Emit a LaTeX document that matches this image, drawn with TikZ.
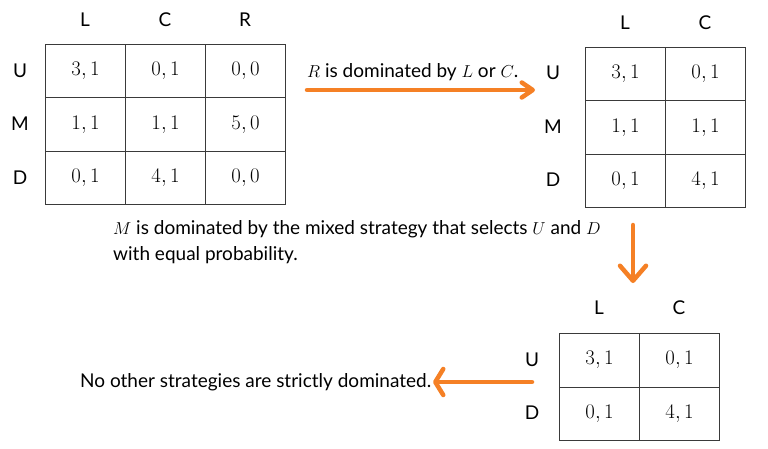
\documentclass[tikz,border=0pt]{standalone}
\usepackage[no-math]{fontspec}
\setmainfont{Lato}
\usetikzlibrary{arrows.meta}
\definecolor{orng}{HTML}{F58025}
\definecolor{gridc}{HTML}{3A3A3A}
\begin{document}
\begin{tikzpicture}[x=1pt,y=-1pt,
  txt/.style={font=\fontsize{19}{26}\selectfont, inner sep=0pt},
  lab/.style={font=\fontsize{19}{22}\selectfont, inner sep=0pt},
  cell/.style={draw=gridc, line width=1.1pt, minimum width=80pt, minimum height=53.3pt,
    inner sep=0pt, anchor=north west, font=\fontsize{20}{22}\selectfont},
  orarrow/.style={draw=orng, line width=4.5pt, line cap=round}]
\useasboundingbox[fill=white] (0,0) rectangle (768,448);

% ---- table 1
\node[lab] (t1L) at (85,20) {L};
\node[lab] (t1C) at (165,20) {C};
\node[lab] (t1R) at (245,20) {R};
\node[lab] (t1U) at (20,71) {U};
\node[lab] (t1M) at (20,124) {M};
\node[lab] (t1D) at (20,178) {D};
\node[cell] (a11) at (45,44) {$3,1$};
\node[cell] (a12) at (125,44) {$0,1$};
\node[cell] (a13) at (205,44) {$0,0$};
\node[cell] (a21) at (45,97.3) {$1,1$};
\node[cell] (a22) at (125,97.3) {$1,1$};
\node[cell] (a23) at (205,97.3) {$5,0$};
\node[cell] (a31) at (45,150.6) {$0,1$};
\node[cell] (a32) at (125,150.6) {$4,1$};
\node[cell] (a33) at (205,150.6) {$0,0$};

% ---- table 2
\node[lab] (t2L) at (625,23) {L};
\node[lab] (t2C) at (705,23) {C};
\node[lab] (t2U) at (553,73) {U};
\node[lab] (t2M) at (553,127) {M};
\node[lab] (t2D) at (553,180) {D};
\node[cell] (b11) at (585,47) {$3,1$};
\node[cell] (b12) at (665,47) {$0,1$};
\node[cell] (b21) at (585,100.3) {$1,1$};
\node[cell] (b22) at (665,100.3) {$1,1$};
\node[cell] (b31) at (585,153.6) {$0,1$};
\node[cell] (b32) at (665,153.6) {$4,1$};

% ---- table 3
\node[lab] (t3L) at (599,308) {L};
\node[lab] (t3C) at (679,308) {C};
\node[lab] (t3U) at (532,360) {U};
\node[lab] (t3D) at (532,413) {D};
\node[cell, minimum height=53.5pt] (c11) at (559,333) {$3,1$};
\node[cell, minimum height=53.5pt] (c12) at (639,333) {$0,1$};
\node[cell, minimum height=53.5pt] (c21) at (559,386.5) {$0,1$};
\node[cell, minimum height=53.5pt] (c22) at (639,386.5) {$4,1$};

% ---- texts
\node[txt, anchor=base west] (txt1) at (307,77) {$R$ is dominated by $L$ or $C$.};
\node[txt, anchor=north west, align=left] (txt2) at (113,220)
  {$M$ is dominated by the mixed strategy that selects $U$ and $D$\\with equal probability.};
\node[txt, anchor=base west] (txt3) at (80,387) {No other strategies are strictly dominated.};

% ---- arrows
\coordinate (r1) at (307,90);
\coordinate (r2) at (535,90);
\coordinate (d1) at (633,225);
\coordinate (d2) at (633,283);
\coordinate (l1) at (532,382);
\coordinate (l2) at (433,382);
\draw[orarrow, -{Straight Barb[length=11pt,width=15pt,round]}] (r1) -- (r2);
\draw[orarrow, -{Straight Barb[length=15pt,width=26pt,round]}] (d1) -- (d2);
\draw[orarrow, -{Straight Barb[length=8pt,width=26pt,round]}] (l1) -- (l2);
\end{tikzpicture}
\end{document}
